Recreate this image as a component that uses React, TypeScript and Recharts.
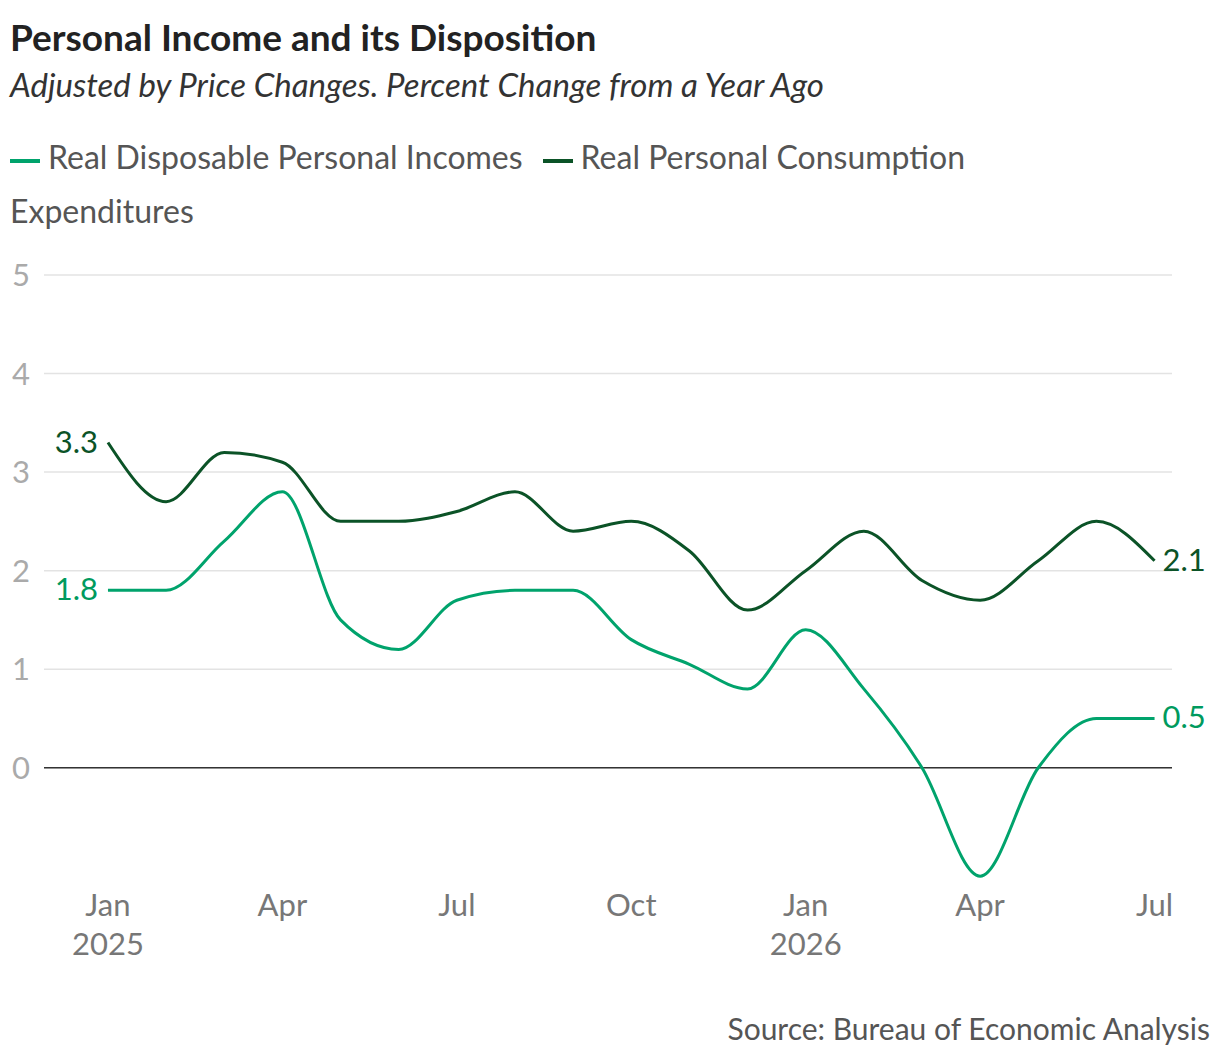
import { LineChart, Line, XAxis, YAxis, CartesianGrid, ReferenceLine, LabelList } from 'recharts'

const months = ['Jan', 'Feb', 'Mar', 'Apr', 'May', 'Jun', 'Jul', 'Aug', 'Sep', 'Oct', 'Nov', 'Dec', 'Jan', 'Feb', 'Mar', 'Apr', 'May', 'Jun', 'Jul']
const years = ['2025', '', '', '', '', '', '', '', '', '', '', '', '2026', '', '', '', '', '', '']
const income = [1.8, 1.8, 2.3, 2.8, 1.5, 1.2, 1.7, 1.8, 1.8, 1.3, 1.05, 0.8, 1.4, 0.8, 0.0, -1.1, 0.0, 0.5, 0.5]
const consumption = [3.3, 2.7, 3.2, 3.1, 2.5, 2.5, 2.6, 2.8, 2.4, 2.5, 2.2, 1.6, 2.0, 2.4, 1.9, 1.7, 2.1, 2.5, 2.1]
const xTicks = [0, 3, 6, 9, 12, 15, 18]
const yTicks = [0, 1, 2, 3, 4, 5]

const LIGHT = '#00a36c'
const DARK = '#0b5327'

const data = months.map((m, i) => ({ i, m, year: years[i], income: income[i], consumption: consumption[i] }))

const endLabel = (color: string) => (props: any) => {
  const { x, y, index, value } = props
  if (index !== 0 && index !== data.length - 1) return null
  const first = index === 0
  return (
    <text x={first ? x - 10 : x + 8} y={y} dy={10} textAnchor={first ? 'end' : 'start'} fill={color} fontSize={31}>
      {value}
    </text>
  )
}

const XTick = ({ x, y, payload }: any) => {
  const d = data[payload.value]
  return (
    <g>
      <text x={x} y={y + 22} textAnchor="middle" fill="#777" fontSize={31}>{d.m}</text>
      {d.year && <text x={x} y={y + 61} textAnchor="middle" fill="#777" fontSize={31}>{d.year}</text>}
    </g>
  )
}

const YTick = ({ y, payload }: any) => (
  <text x={12} y={y} dy={11} fill="#aaa" fontSize={31}>{payload.value}</text>
)

export default function App() {
  return (
    <div style={{ position: 'absolute', left: 0, top: 0, width: 1220, height: 1058, background: '#fff', fontFamily: 'Lato, sans-serif' }}>
      <div style={{ position: 'absolute', left: 10, top: 14, fontSize: 37, fontWeight: 700, color: '#222' }}>Personal Income and its Disposition</div>
      <div style={{ position: 'absolute', left: 10, top: 64, fontSize: 33, fontStyle: 'italic', color: '#333' }}>Adjusted by Price Changes. Percent Change from a Year Ago</div>
      <div style={{ position: 'absolute', left: 10, top: 130, width: 1030, fontSize: 32, color: '#555', lineHeight: '54px' }}>
        <span style={{ display: 'inline-block', width: 30, height: 4, background: LIGHT, verticalAlign: 'middle', marginRight: 8 }} />
        Real Disposable Personal Incomes
        <span style={{ display: 'inline-block', width: 30, height: 4, background: DARK, verticalAlign: 'middle', marginLeft: 20, marginRight: 8 }} />
        Real Personal Consumption Expenditures
      </div>
      <div style={{ position: 'absolute', left: 0, top: 0 }}>
        <LineChart width={1220} height={1000} data={data} margin={{ top: 275, right: 48, left: 0, bottom: 0 }} style={{ fontFamily: 'Lato, sans-serif' }}>
          <CartesianGrid vertical={false} stroke="#e3e3e3" strokeWidth={1.5} horizontalValues={yTicks} />
          <XAxis dataKey="i" type="number" domain={[-1.1, 18.3]} ticks={xTicks} tick={<XTick />} axisLine={false} tickLine={false} height={114} interval={0} />
          <YAxis type="number" domain={[-1.2, 5]} ticks={yTicks} tick={<YTick />} axisLine={false} tickLine={false} width={44} interval={0} />
          <ReferenceLine y={0} stroke="#333" strokeWidth={1.5} />
          <Line type="monotone" dataKey="consumption" stroke={DARK} strokeWidth={3} dot={false} isAnimationActive={false}>
            <LabelList dataKey="consumption" content={endLabel(DARK)} />
          </Line>
          <Line type="monotone" dataKey="income" stroke={LIGHT} strokeWidth={3} dot={false} isAnimationActive={false}>
            <LabelList dataKey="income" content={endLabel('#009a5e')} />
          </Line>
        </LineChart>
      </div>
      <div style={{ position: 'absolute', right: 10, top: 1010, fontSize: 30, color: '#555' }}>Source: Bureau of Economic Analysis</div>
    </div>
  )
}
